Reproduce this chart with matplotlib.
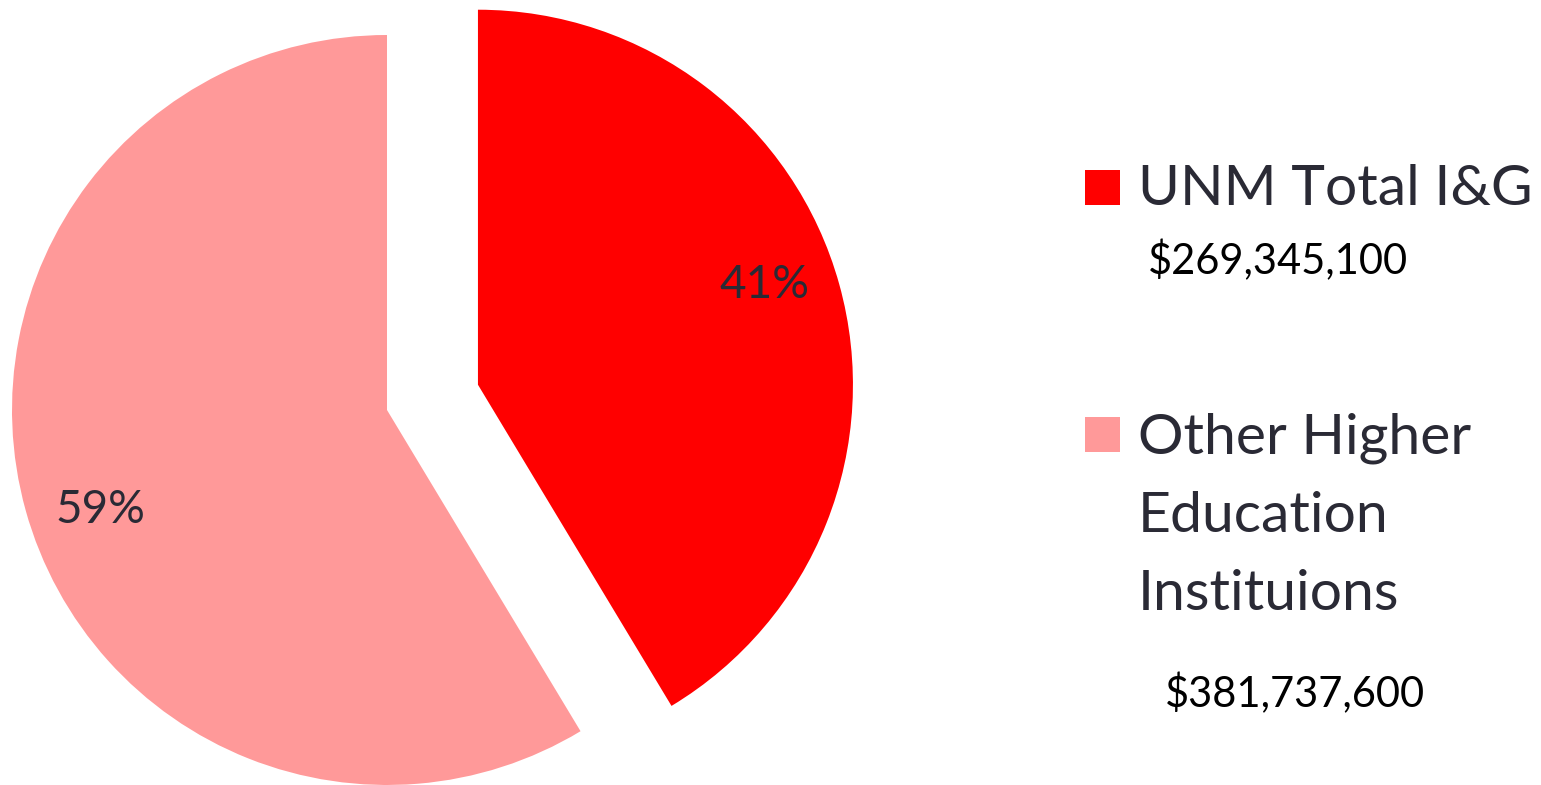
import numpy as np
import matplotlib.pyplot as plt
from matplotlib.patches import Rectangle

labels = ['UNM Total I&G', 'Other Higher\nEducation\nInstituions']
amounts = [269345100, 381737600]
amount_text = ['$269,345,100', '$381,737,600']
colors = ['#ff0000', '#ff9999']
explode = [94.4, 0.0]   # pie offsets are in data units here (pixels)

W, H = 1541, 785
plt.rcParams['font.family'] = ['Lato', 'DejaVu Sans']
text_col = '#2a2a35'

fig = plt.figure(figsize=(W / 100, H / 100), dpi=100)
ax = fig.add_axes([0, 0, 1, 1])

wedges, texts, autotexts = ax.pie(
    amounts,
    colors=colors,
    explode=explode,
    startangle=90,
    counterclock=False,
    radius=375,
    center=(387, H - 410),
    autopct='%1.0f%%',
    pctdistance=0.81,
    textprops={'fontsize': 33, 'color': text_col},
    frame=True,
)
ax.set_xlim(0, W)
ax.set_ylim(0, H)
ax.set_aspect('equal')
ax.axis('off')

# nudge the percentage labels a little anticlockwise, as in the original
for w, t in zip(wedges, autotexts):
    th = np.deg2rad((w.theta1 + w.theta2) / 2 + 3.7)
    cx, cy = w.center
    t.set_position((cx + 0.81 * w.r * np.cos(th), cy + 0.81 * w.r * np.sin(th)))

# legend drawn by hand: marker square aligned with first text line
marker_tops = [170, 417]
amount_pos = [(1148, 274), (1165, 707)]
line_bases = [[205], [453, 532, 610]]
for i in range(len(labels)):
    ax.add_patch(Rectangle((1085, H - marker_tops[i] - 35), 35, 35,
                           color=colors[i], lw=0))
    for line, base in zip(labels[i].split('\n'), line_bases[i]):
        ax.text(1138, H - base, line, fontsize=41, color=text_col,
                va='baseline', ha='left')
    ax.text(amount_pos[i][0], H - amount_pos[i][1], amount_text[i],
            fontsize=30, color='black', va='baseline', ha='left')

plt.savefig('out.png', dpi=100)
